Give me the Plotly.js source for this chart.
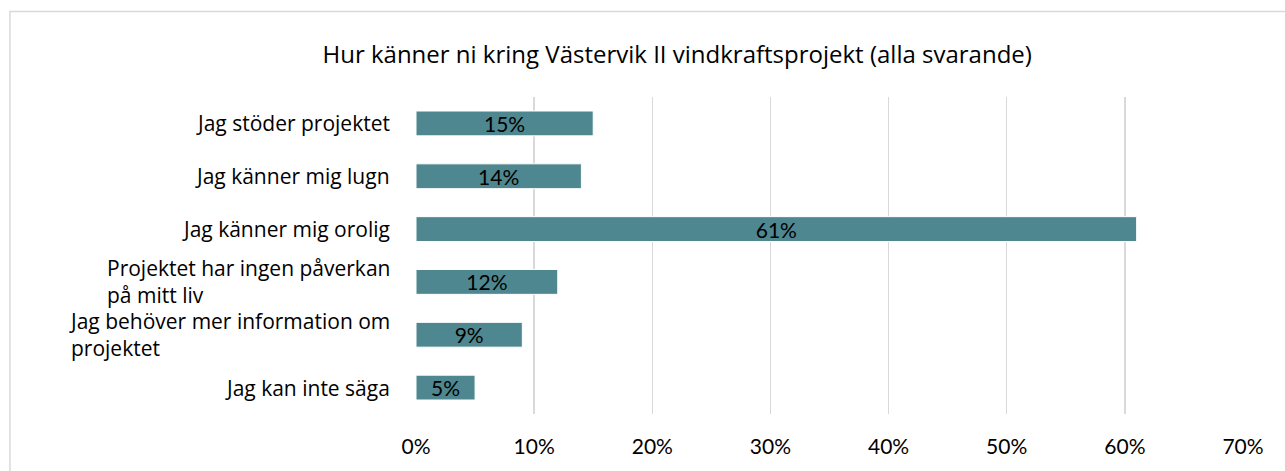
<!DOCTYPE html>
<html><head><meta charset="utf-8">
<script src="https://cdn.plot.ly/plotly-3.0.1.min.js"></script>
<style>html,body{margin:0;padding:0;background:#fff;}#chart{width:1285px;height:471px;}</style>
</head><body><div id="chart"></div>
<script>
const categories = [
  "Jag stöder projektet",
  "Jag känner mig lugn",
  "Jag känner mig orolig",
  "Projektet har ingen påverkan<br>på mitt liv",
  "Jag behöver mer information om<br>projektet",
  "Jag kan inte säga"
];
const values = [0.15, 0.14, 0.61, 0.12, 0.09, 0.05];
const xTickVals = [0, 0.1, 0.2, 0.3, 0.4, 0.5, 0.6, 0.7];
const titleText = "Hur känner ni kring Västervik II vindkraftsprojekt (alla svarande)";

const FONT = "'Open Sans', sans-serif";
const NUMFONT = "Lato, sans-serif";

const trace = {
  type: 'bar', orientation: 'h',
  y: categories, x: values,
  marker: {color: '#4E878F', line: {color: '#ffffff', width: 1}},
  texttemplate: '%{x:.0%}', textposition: 'inside', insidetextanchor: 'middle',
  constraintext: 'none',
  textfont: {family: NUMFONT, size: 21, color: '#000000'},
  hoverinfo: 'none', cliponaxis: false
};

const annotations = categories.map(c => ({
  xref: 'paper', yref: 'y', x: 0, y: c, text: c,
  xanchor: 'right', yanchor: 'middle', align: 'left', xshift: -24,
  showarrow: false, font: {family: FONT, size: 21, color: '#000000'}
}));

const layout = {
  width: 1285, height: 471,
  margin: {l: 416, r: 42, t: 97, b: 57},
  paper_bgcolor: '#ffffff', plot_bgcolor: '#ffffff',
  showlegend: false,
  bargap: 0.53,
  title: {text: titleText, font: {family: FONT, size: 24, color: '#000000'},
          xref: 'container', x: 0.527, xanchor: 'center', yref: 'container', y: 0.885, yanchor: 'middle'},
  xaxis: {range: [0, 0.7], tickvals: xTickVals, tickformat: '.0%',
          showgrid: true, gridcolor: '#d9d9d9', gridwidth: 1.5,
          zeroline: false, showline: false, ticks: '',
          ticklabelstandoff: 18,
          tickfont: {family: NUMFONT, size: 21, color: '#000000'}, fixedrange: true},
  yaxis: {autorange: 'reversed', showticklabels: false, showgrid: false, zeroline: false,
          showline: false, ticks: '', fixedrange: true},
  annotations: annotations,
  shapes: [{type: 'rect', xref: 'paper', yref: 'paper', x0: -0.491, x1: 1.2, y0: -0.4, y1: 1.27,
            line: {color: '#d9d9d9', width: 1.5}, fillcolor: 'rgba(0,0,0,0)', layer: 'below'}]
};

Plotly.newPlot('chart', [trace], layout, {displayModeBar: false, staticPlot: true});
</script></body></html>
